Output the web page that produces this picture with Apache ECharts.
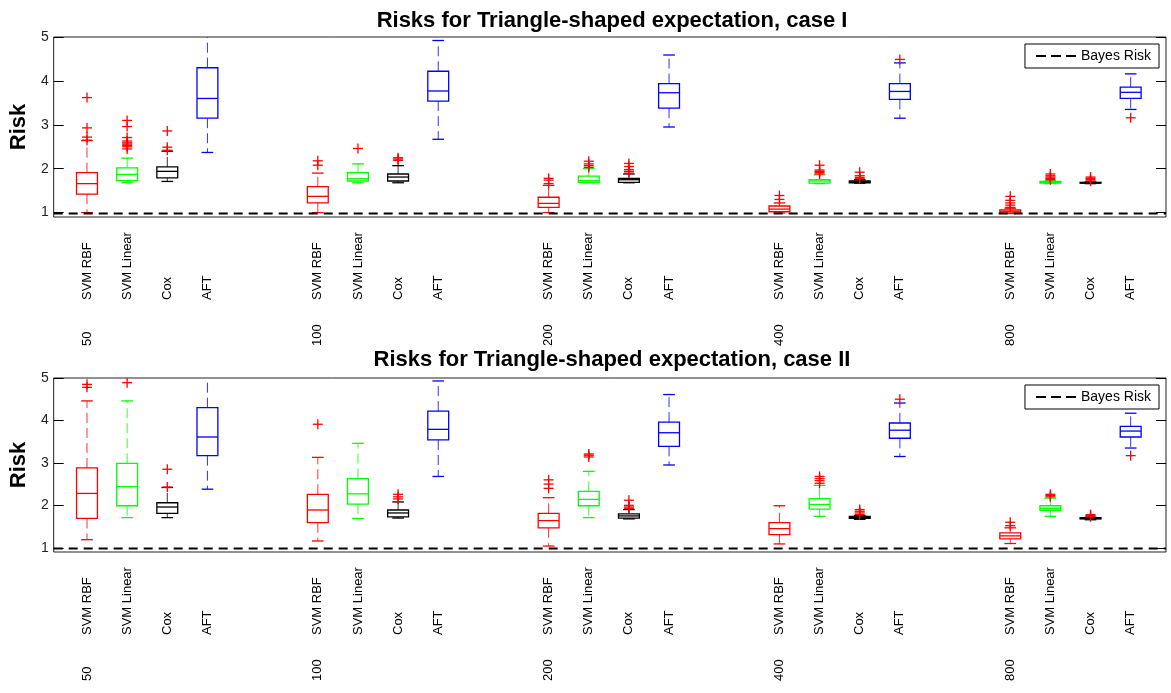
<!DOCTYPE html>
<html><head><meta charset="utf-8">
<script src="https://cdn.jsdelivr.net/npm/echarts@6/dist/echarts.min.js"></script>
<style>html,body{margin:0;padding:0;background:#fff}#c{width:1171px;height:693px}</style>
</head><body><div id="c"></div>
<script>
// ---------- DATA ----------
const groups = ['50', '100', '200', '400', '800'];
const methods = ['SVM RBF', 'SVM Linear', 'Cox', 'AFT'];
const titles = ['Risks for Triangle-shaped expectation, case I', 'Risks for Triangle-shaped expectation, case II'];
const yTicks = [1, 2, 3, 4, 5];
const bayesRisk = 0.98;

// box stats per group: [lowerWhisker, q1, median, q3, upperWhisker]
const caseI_svmRbf = [[1.00,1.42,1.66,1.91,2.64],[1.00,1.22,1.37,1.59,1.90],[1.00,1.12,1.21,1.35,1.62],[0.99,1.02,1.08,1.15,1.22],[0.98,0.99,1.02,1.06,1.10]];
const caseI_svmLinear = [[1.68,1.73,1.87,2.02,2.24],[1.68,1.72,1.77,1.91,2.11],[1.68,1.69,1.73,1.83,2.00],[1.66,1.67,1.72,1.75,1.86],[1.66,1.67,1.69,1.71,1.73]];
const caseI_cox = [[1.71,1.79,1.94,2.04,2.40],[1.68,1.72,1.81,1.88,2.07],[1.68,1.69,1.75,1.78,1.88],[1.67,1.68,1.70,1.72,1.75],[1.66,1.67,1.68,1.69,1.70]];
const caseI_aft = [[2.37,3.15,3.60,4.30,5.30],[2.67,3.54,3.77,4.22,4.92],[2.95,3.38,3.73,3.94,4.59],[3.15,3.58,3.76,3.94,4.41],[3.35,3.60,3.74,3.86,4.16]];

const caseI_svmRbf_out = [[2.65,2.72,2.93,3.62],[2.08,2.18],[1.66,1.74,1.78],[1.30,1.39],[1.12,1.17,1.22,1.28,1.37]];
const caseI_svmLinear_out = [[2.45,2.50,2.53,2.56,2.59,2.63,2.71,2.96,3.10],[2.46],[2.03,2.07,2.11,2.17],[1.88,1.91,1.94,1.97,2.08],[1.75,1.78,1.81,1.84,1.88]];
const caseI_cox_out = [[2.42,2.49,2.86],[2.19,2.22,2.25],[1.90,1.94,1.98,2.05,2.12],[1.77,1.80,1.84,1.92],[1.72,1.75,1.78,1.81]];
const caseI_aft_out = [[],[],[],[4.49],[3.16]];

const caseII_svmRbf = [[1.19,1.69,2.28,2.88,4.46],[1.16,1.59,1.89,2.26,3.13],[1.04,1.47,1.64,1.81,2.18],[1.09,1.31,1.45,1.59,1.99],[1.10,1.21,1.28,1.35,1.47]];
const caseII_svmLinear = [[1.71,1.99,2.44,2.99,4.46],[1.69,2.03,2.27,2.63,3.46],[1.71,1.99,2.14,2.33,2.80],[1.74,1.91,2.02,2.16,2.47],[1.74,1.88,1.93,1.99,2.17]];
const caseII_cox = [[1.71,1.81,1.96,2.06,2.42],[1.70,1.73,1.82,1.89,2.08],[1.68,1.70,1.75,1.80,1.90],[1.67,1.69,1.71,1.74,1.76],[1.66,1.68,1.69,1.71,1.72]];
const caseII_aft = [[2.38,3.17,3.61,4.30,5.30],[2.68,3.54,3.79,4.22,4.93],[2.95,3.39,3.71,3.96,4.61],[3.15,3.58,3.77,3.94,4.41],[3.35,3.61,3.75,3.86,4.17]];

const caseII_svmRbf_out = [[4.78,4.85],[3.91],[2.40,2.50,2.60],[],[1.52,1.60]];
const caseII_svmLinear_out = [[4.89],[],[3.14,3.18,3.21],[2.52,2.58,2.63,2.68],[2.20,2.23,2.26]];
const caseII_cox_out = [[2.43,2.85],[2.15,2.20,2.26],[1.93,1.96,2.00,2.12],[1.78,1.82,1.86,1.90],[1.73,1.76,1.78]];
const caseII_aft_out = [[],[],[],[4.50],[3.17]];

// ---------- LAYOUT / STYLE ----------
const FONT = "'Liberation Sans', Arial, Helvetica, sans-serif";
const COLORS = ['#ff0000', '#00ff00', '#000000', '#0000ff'];
const X_MIN = 0, X_MAX = 27.71, X0 = 0.83, GROUP_GAP = 5.75;
const Y_MIN = 0.9, Y_MAX = 5;
const BOX_W = 0.52, CAP_W = 0.29;
const GRIDS = [{left: 52, right: 5, top: 37, height: 180}, {left: 52, right: 5, top: 378, height: 174}];
const TITLE_TOP = [5, 344];

const panels = [
  {stats: [caseI_svmRbf, caseI_svmLinear, caseI_cox, caseI_aft], outs: [caseI_svmRbf_out, caseI_svmLinear_out, caseI_cox_out, caseI_aft_out]},
  {stats: [caseII_svmRbf, caseII_svmLinear, caseII_cox, caseII_aft], outs: [caseII_svmRbf_out, caseII_svmLinear_out, caseII_cox_out, caseII_aft_out]}
];

function xPos(g, m) { return X0 + g * GROUP_GAP + m; }

function renderBox(params, api) {
  const x = api.value(0);
  const lo = api.coord([x, api.value(1)]);
  const q1 = api.coord([x, api.value(2)]);
  const md = api.coord([x, api.value(3)]);
  const q3 = api.coord([x, api.value(4)]);
  const hi = api.coord([x, api.value(5)]);
  const c = COLORS[api.value(6)];
  const hw = api.size([BOX_W, 0])[0] / 2;
  const cw = api.size([CAP_W, 0])[0] / 2;
  const px = lo[0];
  const dash = {stroke: c, lineWidth: 1, lineDash: [10, 5], opacity: 0.8};
  const solid = {stroke: c, lineWidth: 1.3};
  return {type: 'group', children: [
    {type: 'line', shape: {x1: px, y1: q1[1], x2: px, y2: lo[1]}, style: dash},
    {type: 'line', shape: {x1: px, y1: q3[1], x2: px, y2: hi[1]}, style: dash},
    {type: 'line', shape: {x1: px - cw, y1: lo[1], x2: px + cw, y2: lo[1]}, style: solid},
    {type: 'line', shape: {x1: px - cw, y1: hi[1], x2: px + cw, y2: hi[1]}, style: solid},
    {type: 'rect', shape: {x: px - hw, y: q3[1], width: 2 * hw, height: q1[1] - q3[1]}, style: {fill: 'none', stroke: c, lineWidth: 1.3}},
    {type: 'line', shape: {x1: px - hw, y1: md[1], x2: px + hw, y2: md[1]}, style: solid}
  ]};
}

function renderOutlier(params, api) {
  const p = api.coord([api.value(0), api.value(1)]);
  const s = 5;
  const st = {stroke: '#ff0000', lineWidth: 1.3};
  return {type: 'group', children: [
    {type: 'line', shape: {x1: p[0] - s, y1: p[1], x2: p[0] + s, y2: p[1]}, style: st},
    {type: 'line', shape: {x1: p[0], y1: p[1] - s, x2: p[0], y2: p[1] + s}, style: st}
  ]};
}

function renderLabel(params, api) {
  const base = api.coord([api.value(0), Y_MIN]);
  const m = api.value(1), g = api.value(2);
  const children = [{
    type: 'text', x: base[0], y: base[1] + 83, rotation: Math.PI / 2,
    style: {text: methods[m], fill: '#000', font: '13px ' + FONT, align: 'left', verticalAlign: 'middle'}
  }];
  if (m === 0) {
    children.push({
      type: 'text', x: base[0], y: base[1] + 129, rotation: Math.PI / 2,
      style: {text: groups[g], fill: '#000', font: '13px ' + FONT, align: 'left', verticalAlign: 'middle'}
    });
  }
  return {type: 'group', children};
}

const grid = [], xAxis = [], yAxis = [], series = [], title = [], legend = [];
panels.forEach((P, p) => {
  grid.push(Object.assign({show: true, borderColor: '#222', borderWidth: 1, backgroundColor: 'transparent'}, GRIDS[p]));
  xAxis.push({type: 'value', gridIndex: p, min: X_MIN, max: X_MAX, axisLine: {show: false}, axisTick: {show: false}, axisLabel: {show: false}, splitLine: {show: false}});
  yAxis.push({type: 'value', gridIndex: p, min: Y_MIN, max: Y_MAX, position: 'left',
    name: 'Risk', nameLocation: 'middle', nameGap: 18, nameTextStyle: {fontFamily: FONT, fontWeight: 'bold', fontSize: 22, color: '#000'},
    axisLine: {show: false}, splitLine: {show: false},
    axisTick: {show: true, inside: true, length: 10, customValues: yTicks, lineStyle: {color: '#000'}},
    axisLabel: {show: true, customValues: yTicks, margin: 5, color: '#222', fontFamily: FONT, fontSize: 14}});
  yAxis.push({type: 'value', gridIndex: p, min: Y_MIN, max: Y_MAX, position: 'right',
    axisLine: {show: false}, splitLine: {show: false}, axisLabel: {show: false},
    axisTick: {show: true, inside: true, length: 10, customValues: yTicks, lineStyle: {color: '#000'}}});
  title.push({text: titles[p], left: 607, top: TITLE_TOP[p], textAlign: 'center',
    textStyle: {fontFamily: FONT, fontWeight: 'bold', fontSize: 22, color: '#000'}});
  legend.push({data: ['Bayes Risk'], right: 12, top: GRIDS[p].top + 7, orient: 'vertical',
    backgroundColor: '#fff', borderColor: '#000', borderWidth: 1, padding: [5, 8, 5, 11],
    icon: 'path://M0,0H10V2H0Z M15,0H25V2H15Z M30,0H40V2H30Z', itemWidth: 40, itemHeight: 2.5,
    textStyle: {fontFamily: FONT, fontSize: 14, color: '#000'}, selectedMode: false});

  const boxData = [], outData = [], labelData = [];
  methods.forEach((name, m) => {
    groups.forEach((gName, g) => {
      const s = P.stats[m][g];
      boxData.push([xPos(g, m), s[0], s[1], s[2], s[3], s[4], m]);
      labelData.push([xPos(g, m), m, g]);
      P.outs[m][g].forEach(v => outData.push([xPos(g, m), v]));
    });
  });
  const yi = p * 2;
  series.push({type: 'custom', name: 'box' + p, xAxisIndex: p, yAxisIndex: yi, clip: true, renderItem: renderBox,
    encode: {x: 0, y: [1, 2, 3, 4, 5]}, data: boxData, silent: true, z: 2});
  series.push({type: 'custom', name: 'out' + p, xAxisIndex: p, yAxisIndex: yi, clip: true, renderItem: renderOutlier,
    encode: {x: 0, y: 1}, data: outData, silent: true, z: 3});
  series.push({type: 'custom', name: 'lab' + p, xAxisIndex: p, yAxisIndex: yi, clip: false, renderItem: renderLabel,
    encode: {x: 0}, data: labelData, silent: true, z: 3});
  series.push({type: 'line', name: 'Bayes Risk', xAxisIndex: p, yAxisIndex: yi, symbol: 'none', silent: true, z: 4,
    data: [[X_MIN, bayesRisk], [X_MAX, bayesRisk]],
    itemStyle: {color: '#000'}, lineStyle: {color: '#000', width: 2, type: [9, 6]}});
});

const chart = echarts.init(document.getElementById('c'), null, {renderer: 'canvas'});
chart.setOption({animation: false, backgroundColor: '#fff', title, legend, grid, xAxis, yAxis, series});
</script></body></html>
